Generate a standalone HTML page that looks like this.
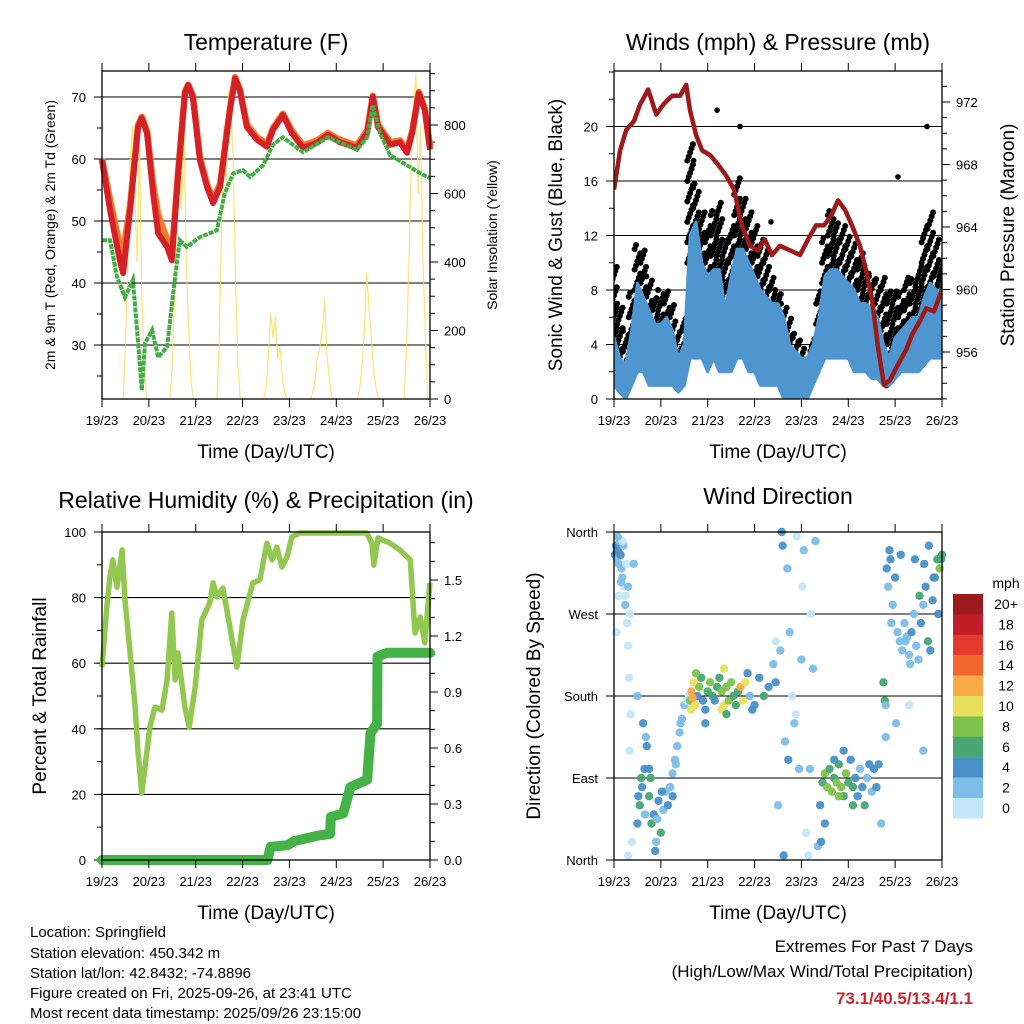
<!DOCTYPE html>
<html><head><meta charset="utf-8"><style>
html,body{margin:0;padding:0;background:#fff;}
svg{display:block;font-family:"Liberation Sans",Arial,sans-serif;}
</style></head><body>
<svg id="c" width="1024" height="1024" viewBox="0 0 1024 1024" xmlns="http://www.w3.org/2000/svg">
<g id="footer" font-size="15" fill="#000">
<text x="30" y="937">Location: Springfield</text>
<text x="30" y="958">Station elevation: 450.342 m</text>
<text x="30" y="978">Station lat/lon: 42.8432; -74.8896</text>
<text x="30" y="998">Figure created on Fri, 2025-09-26, at 23:41 UTC</text>
<text x="30" y="1018">Most recent data timestamp: 2025/09/26 23:15:00</text>
<text x="973" y="952" text-anchor="end" font-size="17">Extremes For Past 7 Days</text>
<text x="973" y="977" text-anchor="end" font-size="17">(High/Low/Max Wind/Total Precipitation)</text>
<text x="973" y="1004" text-anchor="end" font-size="17" font-weight="bold" fill="#d0242c">73.1/40.5/13.4/1.1</text>
</g>
</svg>
<script>
// ---------- Temperature data ----------
const tempT = [0,.17,.38,.45,.6,.77,.85,.96,1.09,1.2,1.39,1.49,1.62,1.77,1.84,1.94,2.09,2.24,2.37,2.52,2.73,2.84,2.94,3.09,3.31,3.52,3.65,3.86,4.05,4.29,4.59,4.82,5.08,5.44,5.66,5.78,5.89,6.15,6.36,6.51,6.62,6.76,6.89,7];
const temp2m = [59.8,51.8,43.7,41.6,51.8,65.2,66.6,64.2,54.5,48,45.8,43.7,57,70.6,71.9,70,59.8,55.5,52.9,55.5,67.9,73,71.1,65.2,63.1,62,64.7,67.1,64.2,61.8,62.6,63.9,62.7,61.8,64.2,70,65.2,62.3,62.7,61,64.2,70.6,67.9,61.5];
const temp9m = [60,53.5,46,45,52.5,65.5,66.8,64.5,56,51,47,44.5,57.5,70.8,72,70.2,60.3,56,53.3,56,68,73.2,71.3,65.6,63.5,62.4,65,67.3,64.6,62.2,63,64.2,63.1,62.2,64.6,70.2,65.6,62.7,63,61.4,64.5,70.8,68.2,62];
const dewT = [0,.17,.32,.49,.66,.77,.85,.92,1.07,1.2,1.39,1.56,1.66,1.81,2.09,2.45,2.62,2.8,3.01,3.16,3.44,3.65,3.86,4.29,4.82,5.44,5.66,5.78,5.93,6.15,6.51,6.79,7];
const dewV = [46.9,46.9,41,37.7,40.5,30.3,22.7,30.3,32.4,28,29.7,41,46.9,45.8,47.4,48.5,54.5,57.7,58.2,57.1,59,62.3,63.5,61.1,63.5,61.5,63.5,68.7,64.2,60.6,59,57.7,56.9];
const solarOffsets = [.45,.5,.55,.6,.65,.7,.75,.8,.85,.9,.95];
const solarDay0 = [0,150,400,700,800,600,400,750,300,100,0];
const solarDay1 = [0,100,300,600,700,550,800,400,200,50,0];
const solarDay2 = [0,150,500,800,600,900,850,700,350,100,0];
const solarDay3 = [0,30,120,250,180,240,120,150,60,20,0];
const solarDay4 = [0,20,60,120,150,200,290,130,60,10,0];
const solarDay5 = [0,30,100,200,370,260,180,80,30,0,0];
const solarDay6 = [0,150,400,700,850,950,600,800,400,200,0];
const tempTicks = [30,40,50,60,70];
const solarTicks = [0,200,400,600,800];
const dayLabels = ["19/23","20/23","21/23","22/23","23/23","24/23","25/23","26/23"];
// ---------- Wind data ----------
const windT = [0,.125,.25,.375,.5,.625,.75,.875,1,1.125,1.25,1.375,1.5,1.625,1.75,1.875,2,2.125,2.25,2.375,2.5,2.625,2.75,2.875,3,3.125,3.25,3.375,3.5,3.625,3.75,3.875,4,4.125,4.25,4.375,4.5,4.625,4.75,4.875,5,5.125,5.25,5.375,5.5,5.625,5.75,5.875,6,6.125,6.25,6.375,6.5,6.625,6.75,6.875,7];
const sustLo = [1,.5,0,1,2,2,1,1,1,1,1,.5,1,3,3,3,2,3,2,2,2,3,3,2,2,1,1,1,1,0,0,0,0,0,1,2,3,3,3,3,3,2,2,2,1.5,1.5,1,1,1.5,2,2,2,2,2.5,3,3,3];
const sustHi = [4.5,3,2.5,5,8.5,7.5,6.5,5.5,5.5,6,5,3,4,12,13,10,9,9.5,9.5,6.5,9,11,11,10,9,8,7.5,7,7,6,4,3.5,3,3,4,6,9,9.5,9.5,9,8.5,8,7,7,6.5,6,4,3,4.5,5,5.5,6,6,7.5,8.5,8,8];
const gustHi = [10,7,5,8,11.5,11,9,7.5,8,8,7,5,6,19,16,14,13,14,14.5,12,13,16.5,15,14,13,12,11,9,8,7,6,5,4.5,3,4.5,8,12,14,13,13,12,11.5,11,10,9,9,9,8,8,8,9,9,10,13,14,12,10];
const gustOutT = [2.2,2.69,6.68,6.06,1.7,3.35];
const gustOutV = [21.2,20,20,16.3,17.5,13];
const presT = [0,.13,.26,.43,.55,.73,.9,1.07,1.24,1.41,1.54,1.62,1.75,1.88,2.05,2.22,2.39,2.56,2.73,2.9,3.07,3.22,3.37,3.54,3.76,3.97,4.14,4.31,4.48,4.65,4.78,4.93,5.08,5.25,5.38,5.51,5.63,5.76,5.89,6.06,6.23,6.36,6.53,6.66,6.83,7];
const presV = [966.4,968.9,970.2,970.8,971.8,972.8,971.2,971.9,972.4,972.4,973.1,971.5,969.9,968.9,968.6,968,967.3,966.4,964.1,962.8,962.5,963.2,962.2,962.8,962.5,962.2,963.2,964.1,964.1,964.8,965.7,965.1,964.1,962.8,961.2,959.3,956.4,953.9,954.2,955.2,956.1,957.1,958,958.8,958.6,960];
const windTicks = [0,4,8,12,16,20];
const presTicks = [956,960,964,968,972];
// ---------- RH / precip data ----------
const rhT = [0,.11,.17,.23,.32,.43,.49,.6,.7,.77,.85,.92,1.02,1.13,1.28,1.39,1.49,1.56,1.62,1.77,1.86,1.99,2.13,2.3,2.37,2.45,2.58,2.73,2.88,3.01,3.22,3.37,3.52,3.63,3.73,3.84,3.95,4.05,4.22,4.93,5.65,5.76,5.8,5.89,6.15,6.36,6.58,6.68,6.79,6.89,7];
const rhV = [58.8,78.4,86.3,91.5,83.2,94.5,79.3,63.1,47.9,32.6,20.4,28.4,40.5,46.6,45.7,54.9,75.3,54.9,63.1,46.6,40.5,52.8,73.2,78.4,84.5,80.2,82.9,71,58.8,73.2,84.5,85.4,96.6,91.5,95.4,89.3,92.4,98.5,99.7,99.7,99.7,96.6,89.9,98.2,96.6,94.5,91.5,69.2,74.1,66.2,84.5];
const precT = [0,3.53,3.6,3.96,4.09,4.6,4.87,4.88,5.15,5.3,5.66,5.73,5.87,5.88,6.08,7];
const precV = [0,0,.07,.08,.10,.13,.14,.23,.25,.39,.43,.68,.73,1.09,1.11,1.11];
const rhTicks = [0,20,40,60,80,100];
const precTicks = [0,.3,.6,.9,1.2,1.5];
// ---------- Wind direction data ----------
const dirT = [.02,.04,.06,.08,.1,.12,.14,.16,.18,.2,.22,.25,.28,.3,.32,.35,.05,.1,.18,.26,.3,.34,.08,.15,.24,.38,.3,.42,.33,
 .5,.55,.6,.65,.7,.75,.8,.85,.9,.95,1.0,1.05,1.1,1.15,1.2,1.25,.62,.68,.78,.88,.52,.58,.66,.92,1.02,.75,
 1.25,1.3,1.35,1.4,1.45,1.5,1.55,1.6,1.32,1.42,.5,
 1.62,1.65,1.7,1.73,1.78,1.82,1.86,1.9,1.95,2.0,2.05,2.1,2.15,2.2,2.25,2.3,2.35,2.4,2.45,2.5,2.55,2.6,2.65,2.7,2.75,2.8,2.85,2.9,2.95,1.64,1.68,1.75,2.3,2.35,1.95,2.4,3.0,3.1,3.2,3.3,3.4,3.45,
 3.45,3.5,3.55,3.58,3.6,3.62,3.7,3.75,3.8,3.85,3.9,3.95,4.0,4.05,4.1,4.15,4.2,4.25,4.3,4.35,3.65,3.72,3.88,4.02,4.18,
 4.4,4.45,4.5,4.55,4.6,4.65,4.7,4.75,4.8,4.85,4.9,4.95,5.0,5.05,5.1,5.15,5.2,5.25,5.3,5.35,5.4,5.45,5.5,5.55,5.6,4.5,4.7,4.9,4.42,4.8,5.1,5.65,5.7,
 5.75,5.78,5.8,5.82,5.85,5.9,5.95,6.0,6.05,6.1,6.15,6.2,6.25,6.3,6.35,6.4,6.45,6.5,6.55,6.6,6.65,6.7,6.75,6.8,6.85,6.9,6.95,7.0,5.88,5.92,6.02,6.12,6.22,6.32,6.42,6.52,6.62,6.72,6.82,6.92,6.98,6.6,5.8,6.3];
const dirDeg = [335,345,330,340,325,350,335,320,310,345,300,290,260,235,200,160,250,290,350,325,300,270,355,305,280,20,5,325,120,
 40,60,80,100,125,70,40,50,20,65,30,55,75,60,80,70,150,135,90,10,70,90,50,45,75,100,
 95,110,125,140,155,170,175,180,105,150,180,
 175,185,195,170,180,190,200,175,165,185,195,180,175,190,200,185,170,190,175,195,180,170,185,190,175,195,205,180,165,165,178,205,165,210,150,160,170,200,180,190,215,195,
 240,60,230,360,345,5,320,250,180,150,355,100,220,340,30,5,270,210,350,15,130,110,160,300,100,
 60,85,95,80,100,75,90,85,105,80,70,95,85,110,80,90,70,100,80,60,90,105,75,100,80,40,110,120,20,70,60,105,40,
 195,175,170,320,300,330,280,310,250,240,230,260,245,225,250,270,235,220,260,280,300,240,230,285,310,330,320,335,340,260,150,335,240,215,330,290,325,345,310,270,330,120,135,170];
const dirSpd = [4,4,3,4,3,2,4,3,2,2,1,1,1,1,1,1,1,1,1,1,2,1,3,3,3,1,1,3,1,
 4,6,5,4,4,7,6,4,3,5,6,3,3,4,3,4,4,3,7,4,4,7,3,3,4,5,
 3,2,3,2,2,3,1,1,3,2,3,
 9,12,10,10,4,9,7,4,4,6,8,6,4,7,6,9,10,9,8,8,6,7,7,12,10,10,4,3,4,10,12,8,10,10,4,6,4,4,6,4,3,4,
 1,2,2,4,4,4,2,2,1,2,1,2,2,2,1,1,1,2,2,3,3,4,1,1,2,
 4,6,8,8,7,9,6,8,6,8,6,8,6,4,6,4,4,3,4,6,3,4,3,4,4,4,4,4,4,9,6,4,3,
 6,6,3,4,3,4,3,4,3,2,3,3,2,2,4,3,2,3,4,3,4,6,4,5,6,6,8,6,4,2,2,4,2,2,4,6,5,4,4,4,7,2,3,1];
const dirTickLabels = ["North","East","South","West","North"];
const dirTickDeg = [0,90,180,270,360];
const speedLabels = ["20+","18","16","14","12","10","8","6","4","2","0"];
const speedColors = ["#c2e7f9","#7ebde7","#4a90c8","#47a672","#7dc24b","#e8e05c","#f8ab48","#f2682c","#e23a2e","#c21e28","#9a1a1e"];

const NS = "http://www.w3.org/2000/svg";
const svg = document.getElementById('c');
function el(tag, attrs, parent){ const e=document.createElementNS(NS,tag); for(const k in attrs) e.setAttribute(k,attrs[k]); (parent||svg).appendChild(e); return e; }
function txt(str, attrs, parent){ const e=el('text',attrs,parent); e.textContent=str; return e; }
function pathFrom(xs, ys){ return xs.map((x,i)=>(i?'L':'M')+x.toFixed(1)+' '+ys[i].toFixed(1)).join(''); }

function makePanel(x0,y0,w,h){ return {x0,y0,w,h,x:t=>x0+t/7*w}; }
function linScale(d0,d1,p0,p1){ return v=>p0+(v-d0)/(d1-d0)*(p1-p0); }

function drawFrame(P, g){
  el('rect',{x:P.x0,y:P.y0,width:P.w,height:P.h,fill:'none',stroke:'#000','stroke-width':1.3},g);
}
function drawXAxis(P, g, name){
  const ax = el('g',{},g);
  
  
  dayLabels.forEach((lab,i)=>{
    const x=P.x(i);
    el('line',{x1:x,x2:x,y1:P.y0+P.h,y2:P.y0+P.h+8,stroke:'#000','stroke-width':1},ax);
    el('line',{x1:x,x2:x,y1:P.y0,y2:P.y0-8,stroke:'#000','stroke-width':1},ax);
    const t=txt(lab,{x:x,y:P.y0+P.h+26,'text-anchor':'middle','font-size':13},ax);
    
    
  });
  const tt=txt('Time (Day/UTC)',{x:P.x0+P.w/2,y:P.y0+P.h+59,'text-anchor':'middle','font-size':19},ax);
  
  
}
function drawYAxis(P, g, ticks, sc, labFmt, side, minors, name, grid){
  const ax = el('g',{},g);
  
  
  const xe = side==='left'?P.x0:P.x0+P.w;
  const dir = side==='left'?-1:1;
  minors.forEach(v=>{ const y=sc(v); el('line',{x1:xe,x2:xe+dir*5,y1:y,y2:y,stroke:'#000','stroke-width':1},ax); });
  ticks.forEach(v=>{
    const y=sc(v);
    if(grid && y>P.y0+1 && y<P.y0+P.h-1) el('line',{x1:P.x0,x2:P.x0+P.w,y1:y,y2:y,stroke:'#000','stroke-width':1.1},g);
    el('line',{x1:xe,x2:xe+dir*8,y1:y,y2:y,stroke:'#000','stroke-width':1},ax);
    const t=txt(labFmt(v),{x:xe+dir*(side==='left'?16:14),y:y+5,'text-anchor':side==='left'?'end':'start','font-size':13},ax);
    
    
  });
}
function title(str,x,y,name){ const t=txt(str,{x:x,y:y,'text-anchor':'middle','font-size':23});   }
function vtitle(str,x,y,size,name){ const t=txt(str,{x:0,y:0,'text-anchor':'middle','font-size':size,transform:`translate(${x},${y}) rotate(-90)`});   }
function range(a,b,s){ const r=[]; for(let v=a; v<=b+1e-9; v+=s) r.push(+v.toFixed(4)); return r; }

// ===== Panel 1: Temperature =====
(function(){
  const P = makePanel(102,71,328,328);
  const g = el('g',{});  
  const yT = linScale(30,70,345,97);
  const yS = linScale(0,800,399,125);
  drawYAxis(P,g,tempTicks,yT,v=>String(v),'left',range(25,70,5).filter(v=>yT(v)<=399&&yT(v)>=71),'temp-y-axis',true);
  drawYAxis(P,g,solarTicks,yS,v=>String(v),'right',range(0,950,50).filter(v=>yS(v)>=71),'solar-y-axis',false);
  const days=[solarDay0,solarDay1,solarDay2,solarDay3,solarDay4,solarDay5,solarDay6];
  days.forEach((arr,d)=>{
    const xs=solarOffsets.map(o=>P.x(Math.min(7,d+o))), ys=arr.map(v=>yS(v));
    const p=el('path',{d:pathFrom(xs,ys),fill:'none',stroke:'#f8e060','stroke-width':1.2,opacity:0.85},g);
    
    
  });
  const o=el('path',{d:pathFrom(tempT.map(P.x),temp9m.map(yT)),fill:'none',stroke:'#f47a2a','stroke-width':6.5,'stroke-linejoin':'round'},g);
   
  const r=el('path',{d:pathFrom(tempT.map(P.x),temp2m.map(yT)),fill:'none',stroke:'#d42027','stroke-width':6,'stroke-linejoin':'round'},g);
   
  const d=el('path',{d:pathFrom(dewT.map(P.x),dewV.map(yT)),fill:'none',stroke:'#45ad45','stroke-width':4,'stroke-dasharray':'5 1'},g);
   
  drawFrame(P,g);
  drawXAxis(P,g,'temp-x-axis');
  title('Temperature (F)',266,50,'temperature-title');
  vtitle('2m & 9m T (Red, Orange) & 2m Td (Green)',55,235,14,'temp-y-title');
  vtitle('Solar Insolation (Yellow)',497,235,14,'solar-y-title');
})();

// ===== Panel 2: Winds =====
(function(){
  const P = makePanel(614,71,328,328);
  const g = el('g',{});  
  const yW = linScale(0,20,399,126.5);
  const yP = linScale(956,972,352,102);
  drawYAxis(P,g,windTicks,yW,v=>String(v),'left',range(0,24,2).filter(v=>yW(v)>=71),'wind-y-axis',true);
  drawYAxis(P,g,presTicks,yP,v=>String(v),'right',range(953,974,1).filter(v=>yP(v)>=71&&yP(v)<=399),'pressure-y-axis',false);
  const cg=el('g',{},g);
  const clip=el('clipPath',{id:'wclip'},g); el('rect',{x:P.x0,y:P.y0,width:P.w,height:P.h},clip);
  cg.setAttribute('clip-path','url(#wclip)');
  windT.forEach((t,i)=>{
    let k=0;
    for(let v=Math.max(0,sustHi[i]-2); v<=gustHi[i]; v+=0.3){
      const off=((k%5)-2)*1.4; k++;
      const c=el('circle',{cx:P.x(t)+off,cy:yW(v),r:3,fill:'#000'},cg);
       
    }
  });
  gustOutT.forEach((t,i)=>{
    const c=el('circle',{cx:P.x(t),cy:yW(gustOutV[i]),r:2.8,fill:'#000'},cg);
     
  });
  const xs=windT.map(P.x);
  const band = pathFrom(xs,sustHi.map(yW)) + xs.slice().reverse().map((x,i)=>'L'+x.toFixed(1)+' '+yW(sustLo[sustLo.length-1-i]).toFixed(1)).join('')+'Z';
  const b=el('path',{d:band,fill:'#4f95d0',stroke:'#4f95d0','stroke-width':3,'stroke-linejoin':'round'},cg);
   
  const p=el('path',{d:pathFrom(presT.map(P.x),presV.map(yP)),fill:'none',stroke:'#9c1a1a','stroke-width':4.5,'stroke-linejoin':'round'},cg);
   
  drawFrame(P,g);
  drawXAxis(P,g,'wind-x-axis');
  title('Winds (mph) & Pressure (mb)',778,50,'winds-title');
  vtitle('Sonic Wind & Gust (Blue, Black)',562,235,19,'wind-y-title');
  vtitle('Station Pressure (Maroon)',1014,235,19,'pressure-y-title');
})();

// ===== Panel 3: RH & precip =====
(function(){
  const P = makePanel(102,532,328,328);
  const g = el('g',{});  
  const yR = linScale(0,100,860,532);
  const yQ = linScale(0,1.5,860,580);
  drawYAxis(P,g,rhTicks,yR,v=>String(v),'left',range(0,100,10),'rh-y-axis',true);
  drawYAxis(P,g,precTicks,yQ,v=>v.toFixed(1),'right',range(0,1.7,.1).filter(v=>yQ(v)>=532),'precip-y-axis',false);
  const r=el('path',{d:pathFrom(rhT.map(P.x),rhV.map(yR)),fill:'none',stroke:'#92c850','stroke-width':5.5,'stroke-linejoin':'round'},g);
   
  const q=el('path',{d:pathFrom(precT.map(P.x),precV.map(yQ)),fill:'none',stroke:'#45b248','stroke-width':10,'stroke-linejoin':'round','stroke-linecap':'round'},g);
   
  drawFrame(P,g);
  drawXAxis(P,g,'rh-x-axis');
  title('Relative Humidity (%) & Precipitation (in)',266,508,'humidity-title');
  vtitle('Percent & Total Rainfall',46,696,19,'rh-y-title');
})();

// ===== Panel 4: Wind direction =====
(function(){
  const P = makePanel(614,532,328,328);
  const g = el('g',{});  
  const yD = linScale(0,360,860,532);
  drawYAxis(P,g,dirTickDeg,yD,v=>dirTickLabels[dirTickDeg.indexOf(v)],'left',[],'direction-y-axis',true);
  dirT.forEach((t,i)=>{
    const idx=Math.min(10,Math.floor(dirSpd[i]/2));
    const c=el('circle',{cx:P.x(t),cy:yD(dirDeg[i]),r:4.2,fill:speedColors[idx],opacity:0.95},g);
     
  });
  drawFrame(P,g);
  drawXAxis(P,g,'direction-x-axis');
  title('Wind Direction',778,504,'direction-title');
  vtitle('Direction (Colored By Speed)',540,696,19,'direction-y-title');
  const lg=el('g',{});  
  txt('mph',{x:1006,y:588,'text-anchor':'middle','font-size':14},lg);
  speedLabels.forEach((lab,i)=>{
    const y=594+i*20.4;
    const rc=el('rect',{x:953,y:y,width:30,height:20.6,fill:speedColors[10-i]},lg);
     
    const t=txt(lab,{x:1006,y:y+15,'text-anchor':'middle','font-size':14},lg);
     
  });
})();
</script>
</body></html>
